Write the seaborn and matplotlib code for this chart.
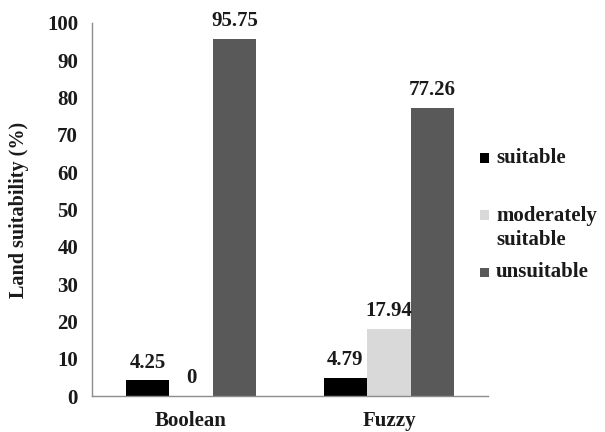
import matplotlib
matplotlib.use("Agg")
import matplotlib.pyplot as plt
import seaborn as sns
import pandas as pd
from matplotlib.patches import Rectangle

methods = ["Boolean", "Fuzzy"]
classes = ["suitable", "moderately suitable", "unsuitable"]
suitable = [4.25, 4.79]
moderately = [0.0, 17.94]
unsuitable = [95.75, 77.26]
legend_labels = ["suitable", "moderately\nsuitable", "unsuitable"]
y_ticks = list(range(0, 101, 10))

rows = []
for i, m in enumerate(methods):
    for cls, vals in zip(classes, [suitable, moderately, unsuitable]):
        rows.append({"method": m, "class": cls, "value": vals[i]})
df = pd.DataFrame(rows)

sns.set_style("white")
plt.rcParams["font.family"] = ["Liberation Serif", "DejaVu Serif"]
plt.rcParams["font.weight"] = "bold"

colors = ["#000000", "#d9d9d9", "#595959"]
text_color = "#1a1a1a"
axis_color = "#8c8c8c"

W, H = 605, 432
fig = plt.figure(figsize=(W / 100, H / 100), dpi=100)
ax = fig.add_axes([92 / W, 1 - 396 / H, (488 - 92) / W, (396 - 23) / H])

sns.barplot(data=df, x="method", y="value", hue="class", hue_order=classes,
            palette=colors, width=0.66, saturation=1, ax=ax, legend=False,
            edgecolor="none")

for container in ax.containers:
    ax.bar_label(container, labels=[f"{v:g}" for v in container.datavalues],
                 padding=5.5, fontsize=15, fontweight="bold", color=text_color)

ax.set_ylim(0, 100)
ax.set_xlim(-0.5, 1.5)
ax.set_yticks(y_ticks)
ax.set_ylabel("Land suitability (%)", fontsize=14.5, fontweight="bold",
              labelpad=13, color=text_color)
ax.set_xlabel("")

for side in ["top", "right"]:
    ax.spines[side].set_visible(False)
for side in ["left", "bottom"]:
    ax.spines[side].set_color(axis_color)
    ax.spines[side].set_linewidth(1.0)

ax.tick_params(axis="y", which="major", direction="out", length=5, width=1,
               color=axis_color, labelsize=15, pad=5, labelcolor=text_color)
ax.tick_params(axis="x", which="major", length=0, labelsize=15, pad=11,
               labelcolor=text_color)
ax.set_xticks([-0.5, 0.5, 1.5], minor=True)
ax.tick_params(axis="x", which="minor", direction="out", length=5, width=1,
               color=axis_color)
for lbl in ax.get_xticklabels() + ax.get_yticklabels():
    lbl.set_fontweight("bold")

# Legend drawn by hand: square swatch beside the first line of each label
swatch = 9
entries_y = [158, 215, 272]   # pixel centres of the first text line
for color, label, yc in zip(colors, legend_labels, entries_y):
    fig.patches.append(Rectangle((480 / W, 1 - (yc + swatch / 2) / H),
                                 swatch / W, swatch / H, facecolor=color,
                                 edgecolor="none", transform=fig.transFigure))
    if "\n" in label:
        fig.text(496 / W, 1 - (yc - 9) / H, label, fontsize=15,
                 fontweight="bold", color=text_color, va="top", ha="left",
                 linespacing=1.25)
    else:
        fig.text(496 / W, 1 - yc / H, label, fontsize=15, fontweight="bold",
                 color=text_color, va="center", ha="left")

fig.savefig("out.png", dpi=100)
